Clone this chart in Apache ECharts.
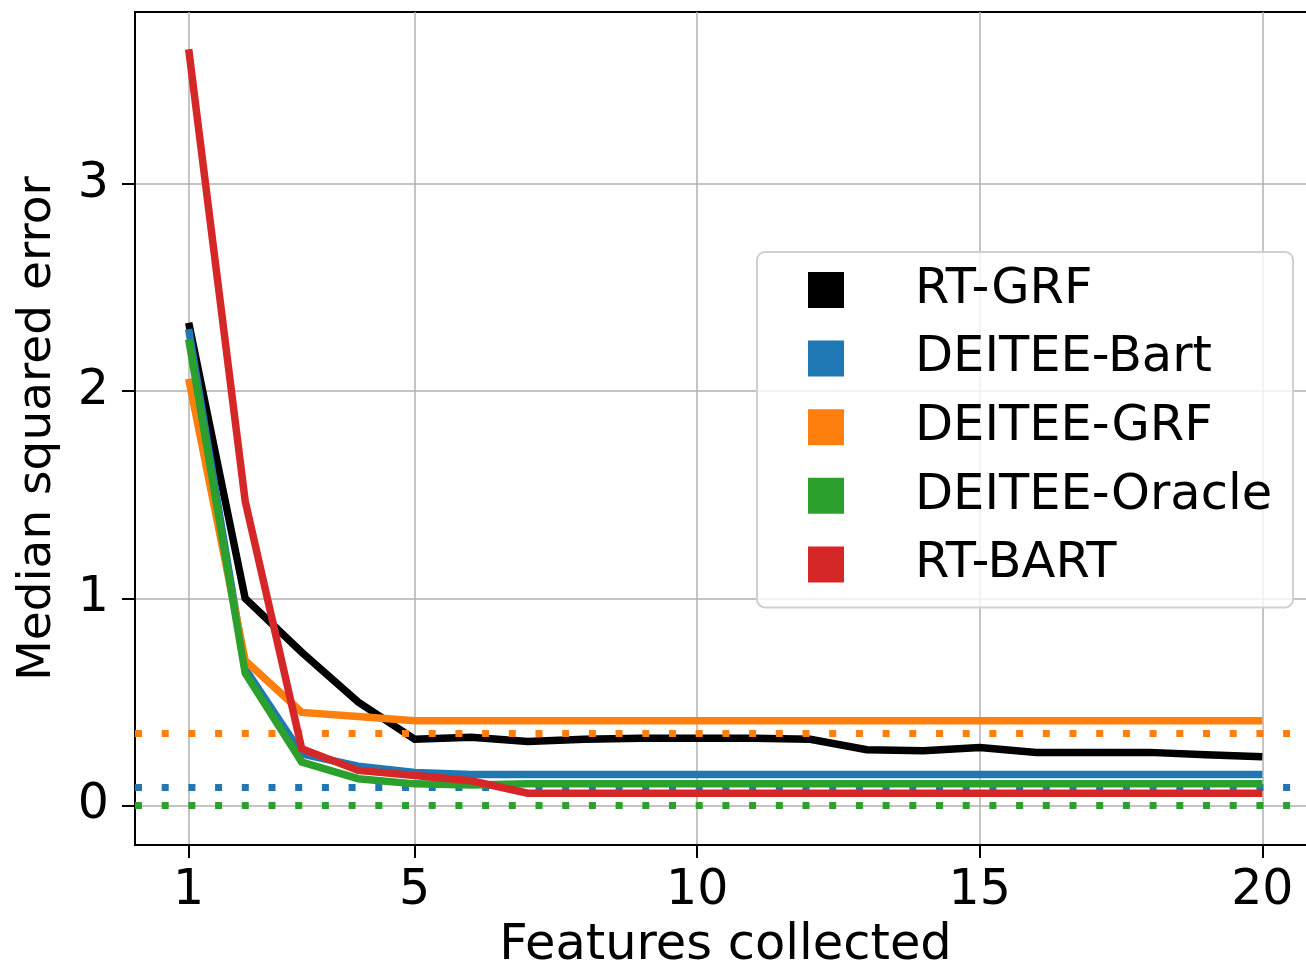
<!DOCTYPE html>
<html>
<head>
<meta charset="utf-8">
<script src="https://cdn.jsdelivr.net/npm/echarts@6/dist/echarts.min.js"></script>
<style>
  html, body { margin: 0; padding: 0; background: #fff; }
  #chart { width: 1306px; height: 962px; }
</style>
</head>
<body>
<div id="chart"></div>
<script>
var features = [1, 2, 3, 4, 5, 6, 7, 8, 9, 10, 11, 12, 13, 14, 15, 16, 17, 18, 19, 20];

var rtGrf = [2.33, 1.0, 0.74, 0.50, 0.32, 0.33, 0.31, 0.32, 0.325, 0.325, 0.325, 0.32, 0.27, 0.265, 0.28, 0.257, 0.257, 0.257, 0.246, 0.236];
var deiteeBart = [2.30, 0.66, 0.25, 0.19, 0.16, 0.15, 0.15, 0.15, 0.15, 0.15, 0.15, 0.15, 0.15, 0.15, 0.15, 0.15, 0.15, 0.15, 0.15, 0.15];
var deiteeGrf = [2.06, 0.70, 0.45, 0.43, 0.41, 0.41, 0.41, 0.41, 0.41, 0.41, 0.41, 0.41, 0.41, 0.41, 0.41, 0.41, 0.41, 0.41, 0.41, 0.41];
var deiteeOracle = [2.25, 0.64, 0.21, 0.13, 0.105, 0.10, 0.105, 0.105, 0.105, 0.105, 0.105, 0.105, 0.105, 0.105, 0.105, 0.105, 0.105, 0.105, 0.105, 0.105];
var rtBart = [3.65, 1.47, 0.275, 0.17, 0.145, 0.12, 0.06, 0.06, 0.06, 0.06, 0.06, 0.06, 0.06, 0.06, 0.06, 0.06, 0.06, 0.06, 0.06, 0.06];

// dotted reference levels
var refBart = 0.087;
var refGrf = 0.35;
var refOracle = 0.0;

var xTicks = [1, 5, 10, 15, 20];
var yTicks = [0, 1, 2, 3];

var names = ['RT-GRF', 'DEITEE-Bart', 'DEITEE-GRF', 'DEITEE-Oracle', 'RT-BART'];
var colors = ['#000000', '#1f77b4', '#ff7f0e', '#2ca02c', '#d62728'];

function pairs(vals) {
    return features.map(function (f, i) { return [f, vals[i]]; });
}

function dotted(value, color, z) {
    return {
        silent: true,
        symbol: 'none',
        z: z,
        label: { show: false },
        lineStyle: { color: color, width: 7, type: [7, 19.7], cap: 'butt' },
        data: [{ yAxis: value }]
    };
}

function mkSeries(idx, vals, z, mark) {
    var s = {
        name: names[idx],
        type: 'line',
        data: pairs(vals),
        showSymbol: false,
        symbol: 'none',
        z: z,
        lineStyle: { color: colors[idx], width: 7.5, cap: 'butt', join: 'miter' },
        itemStyle: { color: colors[idx] }
    };
    if (mark) s.markLine = mark;
    return s;
}

var myChart = echarts.init(document.getElementById('chart'));

var fontFam = 'DejaVu Sans';

var option = {
    animation: false,
    textStyle: { fontFamily: fontFam },
    grid: {
        left: 135, top: 12, width: 1181, height: 833,
        outerBoundsMode: 'none',
        containLabel: false,
        show: true, borderColor: '#000', borderWidth: 2, backgroundColor: '#fff'
    },
    legend: {
        orient: 'vertical',
        left: 757, top: 252,
        padding: [13, 21, 18, 51],
        itemGap: 18.6,
        itemWidth: 36, itemHeight: 36,
        icon: 'rect',
        selectedMode: false,
        backgroundColor: 'rgba(255,255,255,0.8)',
        borderColor: '#d0d0d0',
        borderWidth: 2,
        borderRadius: 8,
        textStyle: { fontSize: 49.5, fontFamily: fontFam, color: '#000', lineHeight: 48, padding: [0, 0, 0, 66] },
        data: names
    },
    xAxis: {
        type: 'value',
        min: 0.05, max: 20.95,
        name: 'Features collected',
        nameLocation: 'middle',
        nameGap: 72,
        nameTextStyle: { fontSize: 49.5, color: '#000', fontFamily: fontFam },
        axisLine: { show: true, onZero: false, lineStyle: { color: '#000', width: 2 } },
        axisTick: { show: true, length: 13, customValues: xTicks, lineStyle: { color: '#000', width: 2 } },
        axisLabel: { customValues: xTicks, fontSize: 49, color: '#000', margin: 22, fontFamily: fontFam },
        splitLine: { show: true, lineStyle: { color: '#b0b0b0', width: 1.5 } }
    },
    yAxis: {
        type: 'value',
        min: -0.19, max: 3.83,
        name: 'Median squared error',
        nameLocation: 'middle',
        nameRotate: 90,
        nameGap: 74,
        nameTextStyle: { fontSize: 47, color: '#000', fontFamily: fontFam },
        axisLine: { show: true, onZero: false, lineStyle: { color: '#000', width: 2 } },
        axisTick: { show: true, length: 13, customValues: yTicks, lineStyle: { color: '#000', width: 2 } },
        axisLabel: { customValues: yTicks, fontSize: 49, color: '#000', margin: 26, fontFamily: fontFam },
        splitLine: { show: true, lineStyle: { color: '#b0b0b0', width: 1.5 } }
    },
    series: [
        mkSeries(0, rtGrf, 2),
        mkSeries(1, deiteeBart, 3, dotted(refBart, colors[1], 4)),
        mkSeries(2, deiteeGrf, 5, dotted(refGrf, colors[2], 6)),
        mkSeries(3, deiteeOracle, 7, dotted(refOracle, colors[3], 8)),
        mkSeries(4, rtBart, 9)
    ]
};

option && myChart.setOption(option);
</script>
</body>
</html>
